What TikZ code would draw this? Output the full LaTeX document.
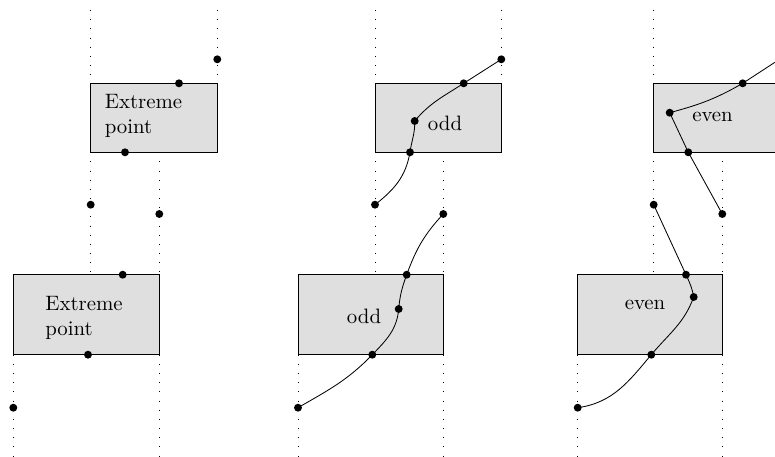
\documentclass[tikz,border=0pt]{standalone}
\usepackage{tikz}
\tikzset{
  guide/.style={black, loosely dotted},
  slab/.style={fill=gray!25, draw=black},
  blob/.style={fill=black}
}

\begin{document}
\begin{tikzpicture}[x=0.48pt, y=0.48pt]
\useasboundingbox (0,0) rectangle (775,-457);
% boxes and guide lines, one panel per row of the list
\foreach \a/\c/\b in {90.7/159.3/13.3, 375/443.3/298, 653.7/722.3/577} {
  \filldraw[slab] (\a,-83.3) rectangle (\a+126.6,-152.3);
  \filldraw[slab] (\b,-274.7) rectangle (\c,-354.7);
  \draw[guide] (\a,-10) -- (\a,-83.3);
  \draw[guide] (\a+126.6,-10) -- (\a+126.6,-83.3);
  \draw[guide] (\a,-152.3) -- (\a,-274.7);
  \draw[guide] (\c,-152.3) -- (\c,-274.7);
  \draw[guide] (\b,-354.7) -- (\b,-457);
  \draw[guide] (\c,-354.7) -- (\c,-457);
}
\node[align=left] (extA) at (143.5,-115.5) {Extreme\\point};
\node[align=left] (extB) at (84,-317.5) {Extreme\\point};
\node (oddA) at (445,-123) {odd};
\node (oddB) at (364,-316.7) {odd};
\node (evenA) at (712.5,-117.3) {even};
\node (evenB) at (645,-305) {even};

% extreme point panel
\coordinate (A1) at (217.3,-59.3);
\coordinate (A2) at (179,-83.3);
\coordinate (A3) at (125,-152.3);
\coordinate (A4) at (90.7,-204.7);
\coordinate (A5) at (159.3,-214);
\coordinate (A6) at (122.7,-274.7);
\coordinate (A7) at (88,-354.7);
\coordinate (A8) at (13.3,-407.7);

% odd panel
\coordinate (O1) at (501.3,-59.3);
\coordinate (O2) at (463.7,-83.3);
\coordinate (O3) at (414.7,-121);
\coordinate (O4) at (410,-152.3);
\coordinate (O5) at (375,-204.7);
\coordinate (O6) at (443.3,-214);
\coordinate (O7) at (406.7,-274.7);
\coordinate (O8) at (398.7,-309);
\coordinate (O9) at (372.3,-354.7);
\coordinate (O10) at (298,-407.7);
\draw (O1) -- (O2) to[out=213,in=50] (O3) to[out=-88,in=82] (O4) to[out=-100,in=38] (O5);
\draw (O6) to[out=227,in=70] (O7) to[out=-110,in=85] (O8) to[out=-95,in=46] (O9) to[out=226,in=30] (O10);

% even panel
\coordinate (E0) at (780,-59);
\coordinate (E1) at (742.7,-83.3);
\coordinate (E2) at (669.7,-112.7);
\coordinate (E3) at (688.3,-152.3);
\coordinate (E4) at (722.3,-214);
\coordinate (E5) at (653.7,-204.7);
\coordinate (E6) at (686,-274.7);
\coordinate (E7) at (693.7,-297);
\coordinate (E8) at (651.3,-354.7);
\coordinate (E9) at (577.7,-407.7);
\draw (E0) -- (E1) to[out=210,in=15] (E2) -- (E3) -- (E4);
\draw (E5) -- (E6) to[out=-65,in=100] (E7) to[out=-110,in=50] (E8) to[out=230,in=8] (E9);

\foreach \p in {1,...,8} \fill[blob] (A\p) circle (1.9pt);
\foreach \p in {1,...,10} \fill[blob] (O\p) circle (1.9pt);
\foreach \p in {1,...,9} \fill[blob] (E\p) circle (1.9pt);
\end{tikzpicture}
\end{document}
